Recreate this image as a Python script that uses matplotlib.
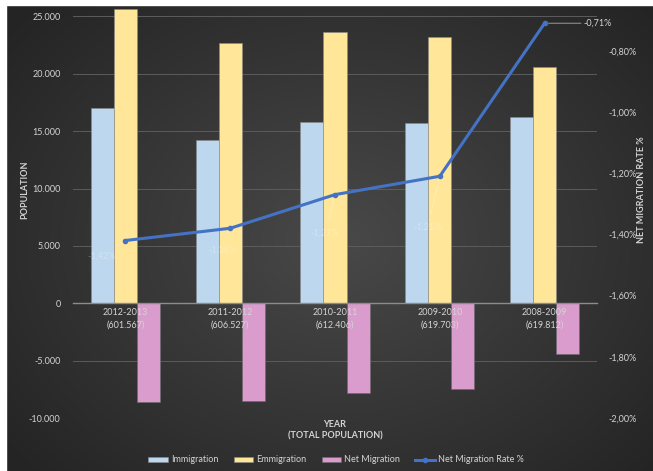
import matplotlib
matplotlib.use('Agg')
import matplotlib.pyplot as plt
import matplotlib.ticker as mticker
from matplotlib.patches import Rectangle
import numpy as np

plt.rcParams['font.family'] = ['Lato', 'DejaVu Sans']

years = ['2012-2013', '2011-2012', '2010-2011', '2009-2010', '2008-2009']
population = ['601.567', '606.527', '612.406', '619.703', '619.812']
immigration = [17000, 14200, 15800, 15700, 16200]
emigration = [25600, 22700, 23600, 23200, 20600]
net_migration = [-8600, -8500, -7800, -7500, -4400]
net_rate = [-1.42, -1.38, -1.27, -1.21, -0.71]

txt = '#d4d4d4'
c_imm = '#bdd7ee'
c_emi = '#ffe699'
c_net = '#d99ccc'
c_line = '#4472c4'

W, H = 653, 471
fig = plt.figure(figsize=(W / 100, H / 100), dpi=100)

# dark radial background like the Excel chart style
bg = fig.add_axes([0, 0, 1, 1], zorder=-10)
yy, xx = np.mgrid[0:H, 0:W]
r = np.sqrt(((xx - 340) / 420.0) ** 2 + ((yy - 240) / 330.0) ** 2)
r = np.clip(r, 0, 1)
shade = 0.285 - 0.14 * r
bg.imshow(np.dstack([shade] * 3), extent=(0, W, H, 0), aspect='auto')
bg.add_patch(Rectangle((0, 0), 6, H, color='white'))
bg.add_patch(Rectangle((0, 0), W, 5, color='white'))
bg.set_xlim(0, W)
bg.set_ylim(H, 0)
bg.axis('off')

# axes top lies above the picture (the source image is cropped at the top)
ax = fig.add_axes([73 / W, 53 / H, 524 / W, 459 / H])
ax.patch.set_alpha(0)
x = np.arange(len(years))
bw = 0.22
ax.bar(x - bw, immigration, bw, color=c_imm, edgecolor='#8a8a8a', linewidth=0.4, label='Immigration', zorder=2)
ax.bar(x, emigration, bw, color=c_emi, edgecolor='#8a8a8a', linewidth=0.4, label='Emmigration', zorder=2)
ax.bar(x + bw, net_migration, bw, color=c_net, edgecolor='#6a6a6a', linewidth=0.4, label='Net Migration', zorder=2)
ax.set_xlim(-0.5, len(years) - 0.5)
ax.set_ylim(-10000, 30000)
ax.set_yticks(np.arange(-10000, 25001, 5000))
ax.yaxis.set_major_formatter(mticker.FuncFormatter(lambda v, p: '{:,.0f}'.format(v).replace(',', '.')))
ax.grid(axis='y', color='#5c5c5c', linewidth=0.7, zorder=0)
ax.set_axisbelow(True)
for s in ['top', 'right', 'left']:
    ax.spines[s].set_visible(False)
ax.spines['bottom'].set_position(('data', 0))
ax.spines['bottom'].set_color('#8c8c8c')
ax.spines['bottom'].set_linewidth(1.0)
ax.spines['bottom'].set_zorder(3)
ax.set_xticks(x)
ax.set_xticklabels([])
ax.tick_params(axis='x', length=0)
ax.tick_params(axis='y', length=0, pad=9, labelsize=6.5, labelcolor=txt)

# category labels sit just under the zero line, drawn over the bars
for xi, a, b in zip(x, years, population):
    ax.annotate('{}\n({})'.format(a, b), (xi, 0), xytext=(0, -5), textcoords='offset pixels',
                ha='center', va='top', fontsize=6.5, color=txt, linespacing=1.5, zorder=4)

ax2 = ax.twinx()
ax2.plot(x, net_rate, color=c_line, linewidth=2.2, marker='o', markersize=4, label='Net Migration Rate %', zorder=5)
ax2.set_ylim(-2.0, -0.5)
ax2.set_yticks(np.arange(-2.0, -0.79, 0.2))
ax2.yaxis.set_major_formatter(mticker.FuncFormatter(lambda v, p: '{:.2f}%'.format(v).replace('.', ',')))
ax2.tick_params(axis='y', length=0, pad=8, labelsize=6.5, labelcolor=txt)
for s in ax2.spines.values():
    s.set_visible(False)

# faint data labels with leader lines
offsets = [(-24, -16), (-8, -22), (-10, -39), (-12, -51)]
for xi, v, off in zip(x[:-1], net_rate[:-1], offsets):
    ax2.annotate('{:.2f}%'.format(v).replace('.', ','), (xi, v), xytext=off, textcoords='offset pixels',
                 ha='center', va='center', fontsize=6.5, color='white', alpha=0.3,
                 arrowprops=dict(arrowstyle='-', color='white', alpha=0.3, lw=0.6, shrinkA=4, shrinkB=2))
ax2.annotate('{:.2f}%'.format(net_rate[-1]).replace('.', ','), (x[-1], net_rate[-1]), xytext=(39, 0),
             textcoords='offset pixels', ha='left', va='center', fontsize=6.5, color=txt,
             arrowprops=dict(arrowstyle='-', color='#8c8c8c', lw=0.8, shrinkA=0, shrinkB=3))

fig.text(25 / W, 1 - 190 / H, 'POPULATION', rotation=90, ha='center', va='center', fontsize=6.5, fontweight='bold', color=txt)
fig.text(641 / W, 1 - 190 / H, 'NET MIGRATION RATE %', rotation=90, ha='center', va='center', fontsize=6.5, fontweight='bold', color=txt)
fig.text(335 / W, 1 - 430 / H, 'YEAR\n(TOTAL POPULATION)', ha='center', va='center', fontsize=6.5, fontweight='bold', color=txt, linespacing=1.4)

h1, l1 = ax.get_legend_handles_labels()
h2, l2 = ax2.get_legend_handles_labels()
h2[0].set_markersize(3)
leg = fig.legend(h1 + h2, l1 + l2, loc='center', bbox_to_anchor=(336 / W, 1 - 460 / H), ncol=4, frameon=False,
                 fontsize=6.5, handlelength=2.2, handleheight=0.5, columnspacing=1.7, handletextpad=0.3)
for t in leg.get_texts():
    t.set_color(txt)

fig.savefig('out.png', dpi=100)
